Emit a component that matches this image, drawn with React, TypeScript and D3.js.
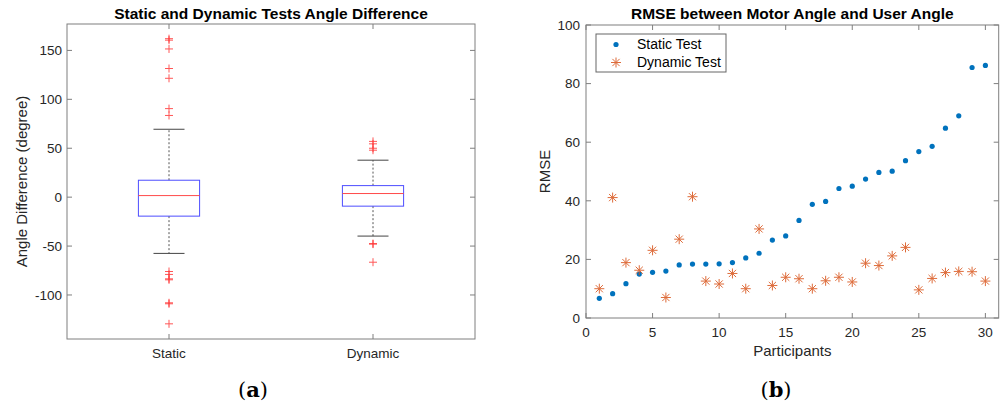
import React from 'react';
import * as d3 from 'd3';

// ---- data ----
const categories = ['Static', 'Dynamic'];
const boxQ1 = [-19.4, -9.2];
const boxMedian = [1.6, 3.7];
const boxQ3 = [17.3, 11.8];
const whiskerLow = [-57.5, -39.8];
const whiskerHigh = [69.4, 37.8];
const staticOutliers = [162, 160.5, 151.5, 131.5, 121.5, 90.5, 83.5, -76, -79, -83.5, -84.5, -108, -109, -129.5];
const dynamicOutliers = [57, 54.5, 50, 48, -47.5, -48, -66.5];
const leftTicks = [-100, -50, 0, 50, 100, 150];

const participants = d3.range(1, 31);
const staticRmse = [6.7, 8.3, 11.7, 15.0, 15.6, 16.0, 18.1, 18.4, 18.4, 18.5, 18.9, 20.5, 22.1, 26.6, 28.0, 33.3, 38.8, 39.8, 44.2, 45.0, 47.4, 49.7, 50.1, 53.7, 56.8, 58.6, 64.8, 69.0, 85.5, 86.2];
const dynamicRmse = [10.0, 41.1, 18.9, 16.3, 23.1, 7.0, 26.9, 41.4, 12.6, 11.6, 15.2, 10.0, 30.4, 11.1, 13.9, 13.4, 10.0, 12.7, 13.9, 12.3, 18.7, 17.9, 21.2, 24.1, 9.6, 13.5, 15.5, 15.9, 15.8, 12.6];
const rightXTicks = [0, 5, 10, 15, 20, 25, 30];
const rightYTicks = [0, 20, 40, 60, 80, 100];

const FONT = '"Liberation Sans", Arial, Helvetica, sans-serif';
const AXIS = '#7f7f7f';
const TEXT = '#262626';
const BLUE = '#0072BD';
const ORANGE = '#D95319';

const Plus = ({ x, y }: { x: number; y: number }) => (
  <g stroke="#ff2020" strokeWidth={1} opacity={0.75}>
    <line x1={x - 4} x2={x + 4} y1={y} y2={y} />
    <line x1={x} x2={x} y1={y - 4} y2={y + 4} />
  </g>
);

const Star = ({ x, y }: { x: number; y: number }) => {
  const r = 5;
  const d = r * 0.72;
  return (
    <g stroke={ORANGE} strokeWidth={1} opacity={0.85}>
      <line x1={x - r} x2={x + r} y1={y} y2={y} />
      <line x1={x} x2={x} y1={y - r} y2={y + r} />
      <line x1={x - d} x2={x + d} y1={y - d} y2={y + d} />
      <line x1={x - d} x2={x + d} y1={y + d} y2={y - d} />
    </g>
  );
};

const BoxPanel = () => {
  const left = 67, right = 475, top = 24, bottom = 339;
  const x = d3.scalePoint<string>().domain(categories).range([left, right]).padding(0.5);
  const y = d3.scaleLinear().domain([-145, 177]).range([bottom, top]);
  const step = x.step();
  const bw = step * 0.15; // half box width
  const cw = step * 0.076; // half cap width
  const outliers = [staticOutliers, dynamicOutliers];

  return (
    <g>
      <text x={(left + right) / 2} y={19} textAnchor="middle" fontFamily={FONT} fontSize={15.5} fontWeight="bold" fill="#000">
        Static and Dynamic Tests Angle Difference
      </text>
      <rect x={left} y={top} width={right - left} height={bottom - top} fill="none" stroke={AXIS} />
      {leftTicks.map((t) => (
        <g key={t}>
          <line x1={left} x2={left + 5} y1={y(t)} y2={y(t)} stroke={AXIS} />
          <line x1={right - 5} x2={right} y1={y(t)} y2={y(t)} stroke={AXIS} />
          <text x={left - 5} y={y(t)} dy="0.35em" textAnchor="end" fontFamily={FONT} fontSize={13.5} fill={TEXT}>
            {t}
          </text>
        </g>
      ))}
      {categories.map((c, i) => {
        const cx = x(c) as number;
        return (
          <g key={c}>
            <line x1={cx} x2={cx} y1={top} y2={top + 5} stroke={AXIS} />
            <line x1={cx} x2={cx} y1={bottom - 5} y2={bottom} stroke={AXIS} />
            <text x={cx} y={bottom + 19} textAnchor="middle" fontFamily={FONT} fontSize={13.5} fill={TEXT}>
              {c}
            </text>
            <line x1={cx} x2={cx} y1={y(boxQ3[i])} y2={y(whiskerHigh[i])} stroke="#555" strokeDasharray="2,2" />
            <line x1={cx} x2={cx} y1={y(boxQ1[i])} y2={y(whiskerLow[i])} stroke="#555" strokeDasharray="2,2" />
            <line x1={cx - cw} x2={cx + cw} y1={y(whiskerHigh[i])} y2={y(whiskerHigh[i])} stroke="#444" />
            <line x1={cx - cw} x2={cx + cw} y1={y(whiskerLow[i])} y2={y(whiskerLow[i])} stroke="#444" />
            <rect x={cx - bw} y={y(boxQ3[i])} width={bw * 2} height={y(boxQ1[i]) - y(boxQ3[i])} fill="none" stroke="#4d4dff" />
            <line x1={cx - bw} x2={cx + bw} y1={y(boxMedian[i])} y2={y(boxMedian[i])} stroke="#ff4a4a" />
            {outliers[i].map((v, k) => (
              <Plus key={k} x={cx} y={y(v)} />
            ))}
          </g>
        );
      })}
      <text transform={`translate(22,${(top + bottom) / 2}) rotate(-90)`} textAnchor="middle" dy="0.35em" fontFamily={FONT} fontSize={15} fill={TEXT}>
        Angle Difference (degree)
      </text>
      <text x={253} y={397} textAnchor="middle" fontFamily='"DejaVu Serif", "Liberation Serif", serif' fontSize={21} fill="#000">
        (<tspan fontWeight="bold">a</tspan>)
      </text>
    </g>
  );
};

const ScatterPanel = () => {
  const left = 586, right = 998.7, top = 25, bottom = 318;
  const x = d3.scaleLinear().domain([0, 31]).range([left, right]);
  const y = d3.scaleLinear().domain([0, 100]).range([bottom, top]);

  return (
    <g>
      <text x={(left + right) / 2} y={19} textAnchor="middle" fontFamily={FONT} fontSize={15.5} fontWeight="bold" fill="#000">
        RMSE between Motor Angle and User Angle
      </text>
      <rect x={left} y={top} width={right - left} height={bottom - top} fill="none" stroke={AXIS} />
      {rightXTicks.map((t) => (
        <g key={t}>
          <line x1={x(t)} x2={x(t)} y1={bottom - 5} y2={bottom} stroke={AXIS} />
          <line x1={x(t)} x2={x(t)} y1={top} y2={top + 5} stroke={AXIS} />
          <text x={x(t)} y={bottom + 19} textAnchor="middle" fontFamily={FONT} fontSize={13.5} fill={TEXT}>
            {t}
          </text>
        </g>
      ))}
      {rightYTicks.map((t) => (
        <g key={t}>
          <line x1={left} x2={left + 5} y1={y(t)} y2={y(t)} stroke={AXIS} />
          <line x1={right - 5} x2={right} y1={y(t)} y2={y(t)} stroke={AXIS} />
          <text x={left - 6} y={y(t)} dy="0.35em" textAnchor="end" fontFamily={FONT} fontSize={13.5} fill={TEXT}>
            {t}
          </text>
        </g>
      ))}
      {participants.map((p, i) => (
        <circle key={'s' + p} cx={x(p)} cy={y(staticRmse[i])} r={2.6} fill={BLUE} />
      ))}
      {participants.map((p, i) => (
        <Star key={'d' + p} x={x(p)} y={y(dynamicRmse[i])} />
      ))}
      <g>
        <rect x={596} y={34} width={130} height={38} fill="#fff" stroke="#666" />
        <circle cx={616} cy={44.5} r={2.6} fill={BLUE} />
        <Star x={616} y={62.5} />
        <text x={637} y={44.5} dy="0.35em" fontFamily={FONT} fontSize={14} fill="#000">Static Test</text>
        <text x={637} y={62.5} dy="0.35em" fontFamily={FONT} fontSize={14} fill="#000">Dynamic Test</text>
      </g>
      <text x={(left + right) / 2} y={356} textAnchor="middle" fontFamily={FONT} fontSize={15} fill={TEXT}>
        Participants
      </text>
      <text transform={`translate(545,${(top + bottom) / 2}) rotate(-90)`} textAnchor="middle" dy="0.35em" fontFamily={FONT} fontSize={15} fill={TEXT}>
        RMSE
      </text>
      <text x={776} y={397} textAnchor="middle" fontFamily='"DejaVu Serif", "Liberation Serif", serif' fontSize={21} fill="#000">
        (<tspan fontWeight="bold">b</tspan>)
      </text>
    </g>
  );
};

export default function App() {
  return (
    <svg width={1001} height={405} style={{ position: 'absolute', left: 0, top: 0, background: '#fff' }}>
      <BoxPanel />
      <ScatterPanel />
    </svg>
  );
}
